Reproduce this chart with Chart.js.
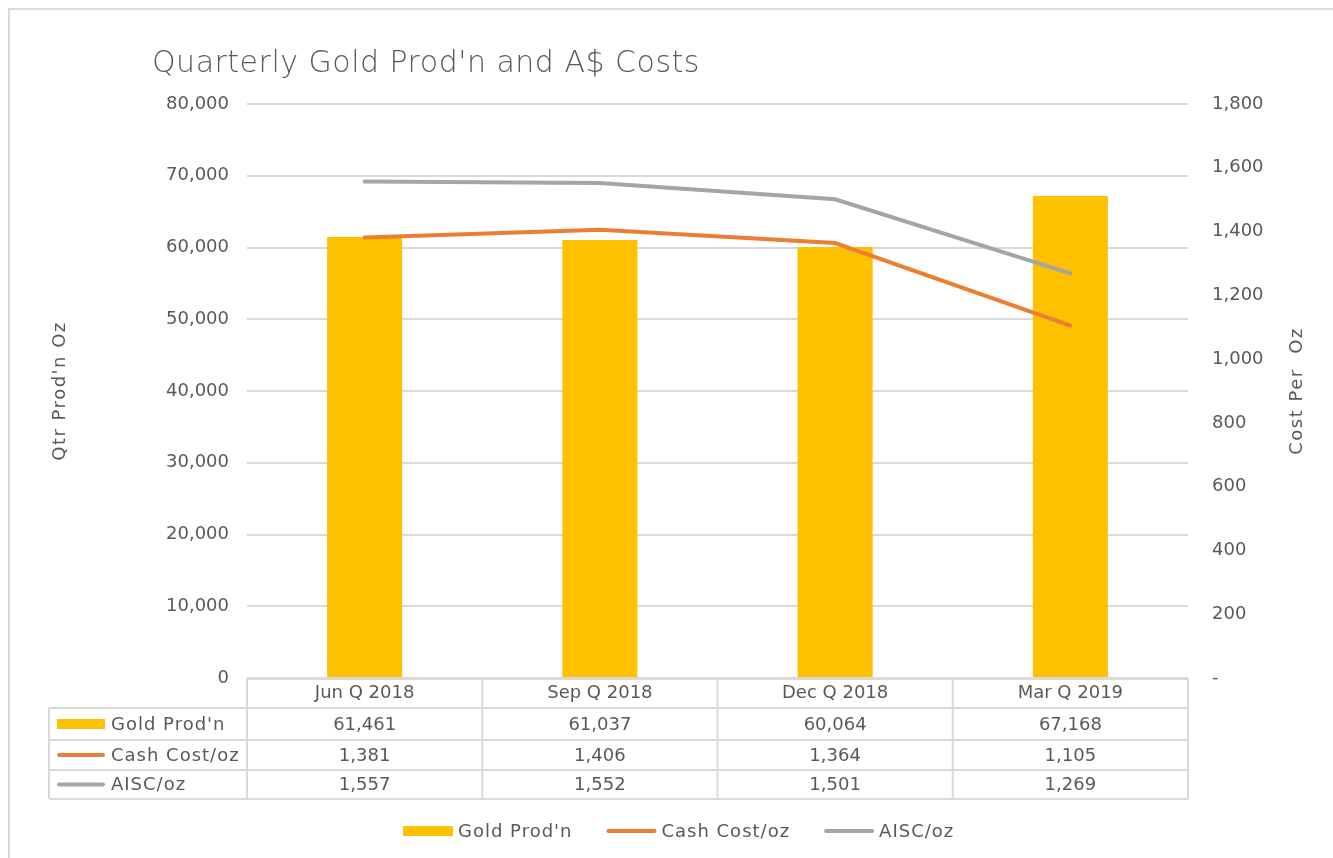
<!DOCTYPE html>
<html><head><meta charset="utf-8">
<script src="https://cdn.jsdelivr.net/npm/chart.js@4/dist/chart.umd.min.js"></script>
<style>html,body{margin:0;padding:0;background:#fff;overflow:hidden}#wrap{width:1333px;height:858px}canvas{display:block}</style>
</head><body><div id="wrap"><canvas id="c" width="1333" height="858"></canvas></div>
<script>
// ---- data ----
const categories = ['Jun Q 2018', 'Sep Q 2018', 'Dec Q 2018', 'Mar Q 2019'];
const goldProd = [61461, 61037, 60064, 67168];
const cashCost = [1381, 1406, 1364, 1105];
const aiscCost = [1557, 1552, 1501, 1269];
const seriesNames = ["Gold Prod'n", 'Cash Cost/oz', 'AISC/oz'];
const leftAxisRange = [0, 80000, 10000];
const rightAxisRange = [0, 1800, 200];
const titleText = "Quarterly Gold Prod'n and A$ Costs";
const leftTitle = "Qtr Prod'n Oz";
const rightTitle = 'Cost Per  Oz';

// ---- style ----
const FONT = '"DejaVu Sans", sans-serif';
const TXT = '#595959';
const GRID = '#D9D9D9';
const colors = ['#FFC000', '#ED7D31', '#A5A5A5'];
const fmt = v => v.toLocaleString('en-US');

Chart.defaults.font.family = FONT;
Chart.defaults.color = TXT;

function drawSample(ctx, i, x0, x1, yc) {
  if (i === 0) {
    ctx.fillStyle = colors[0];
    ctx.fillRect(x0, yc - 5, x1 - x0, 10);
  } else {
    ctx.strokeStyle = colors[i];
    ctx.lineWidth = 4;
    ctx.lineCap = 'round';
    ctx.beginPath(); ctx.moveTo(x0 + 2, yc); ctx.lineTo(x1 - 2, yc); ctx.stroke();
  }
}

const deco = {
  id: 'deco',
  beforeDraw(chart) {
    const ctx = chart.ctx;
    ctx.save();
    ctx.fillStyle = '#fff';
    ctx.fillRect(0, 0, chart.width, chart.height);
    ctx.strokeStyle = GRID; ctx.lineWidth = 2;
    ctx.lineCap = 'butt';
    ctx.beginPath();
    ctx.moveTo(9, 9); ctx.lineTo(9, 870);
    ctx.moveTo(8, 9); ctx.lineTo(1340, 9);
    ctx.stroke();
    ctx.restore();
  },
  afterDraw(chart) {
    const ctx = chart.ctx;
    const ca = chart.chartArea;
    const xs = chart.scales.x;
    ctx.save();
    ctx.fillStyle = TXT;
    // title
    ctx.font = '300 30px ' + FONT;
    ctx.letterSpacing = '0.5px';
    ctx.textAlign = 'left'; ctx.textBaseline = 'middle';
    ctx.fillText(titleText, 152, 64);
    // axis titles
    ctx.font = '18px ' + FONT;
    ctx.letterSpacing = '1.5px';
    ctx.textAlign = 'center';
    [[60, leftTitle], [1297, rightTitle]].forEach(([x, t]) => {
      ctx.save(); ctx.translate(x, (ca.top + ca.bottom) / 2); ctx.rotate(-Math.PI / 2);
      ctx.fillText(t, 0, 0); ctx.restore();
    });
    // data table
    const n = categories.length;
    const half = (ca.right - ca.left) / n / 2;
    const edges = categories.map((c, i) => xs.getPixelForValue(i) - half);
    edges.push(ca.right);
    const rowsY = [708, 740, 770, 799];
    const tableLeft = 49;
    ctx.strokeStyle = GRID; ctx.lineWidth = 2;
    ctx.beginPath();
    ctx.moveTo(ca.left, ca.bottom + 1); ctx.lineTo(ca.right, ca.bottom + 1);
    rowsY.forEach(y => { ctx.moveTo(tableLeft, y); ctx.lineTo(ca.right, y); });
    edges.forEach(x => { ctx.moveTo(x, ca.bottom); ctx.lineTo(x, rowsY[rowsY.length - 1]); });
    ctx.moveTo(tableLeft, rowsY[0]); ctx.lineTo(tableLeft, rowsY[rowsY.length - 1]);
    ctx.stroke();
    const series = [goldProd, cashCost, aiscCost];
    ctx.font = '18px ' + FONT;
    ctx.textBaseline = 'middle';
    series.forEach((vals, r) => {
      const yc = (rowsY[r] + rowsY[r + 1]) / 2;
      drawSample(ctx, r, 57, 105, yc);
      ctx.fillStyle = TXT; ctx.textAlign = 'left';
      ctx.letterSpacing = '1px';
      ctx.fillText(seriesNames[r], 111, yc + 1);
      ctx.letterSpacing = '0px';
      ctx.textAlign = 'center';
      vals.forEach((v, i) => ctx.fillText(fmt(v), xs.getPixelForValue(i), yc + 1));
    });
    // legend
    let lx = 403; const ly = 831;
    ctx.letterSpacing = '1px';
    seriesNames.forEach((name, i) => {
      drawSample(ctx, i, lx, lx + 50, ly);
      ctx.fillStyle = TXT; ctx.textAlign = 'left';
      ctx.fillText(name, lx + 55, ly + 1);
      lx += 55 + ctx.measureText(name).width + 34;
    });
    ctx.restore();
  }
};

new Chart(document.getElementById('c'), {
  data: {
    labels: categories,
    datasets: [
      { type: 'bar', label: seriesNames[0], data: goldProd, yAxisID: 'y', backgroundColor: colors[0],
        barPercentage: 0.319, categoryPercentage: 1, order: 3 },
      { type: 'line', label: seriesNames[1], data: cashCost, yAxisID: 'y1', borderColor: colors[1],
        borderWidth: 4, pointRadius: 0, borderCapStyle: 'round', order: 1 },
      { type: 'line', label: seriesNames[2], data: aiscCost, yAxisID: 'y1', borderColor: colors[2],
        borderWidth: 4, pointRadius: 0, borderCapStyle: 'round', order: 2 }
    ]
  },
  options: {
    responsive: false, animation: false,
    layout: { padding: { top: 104, left: 0, right: 0, bottom: 0 } },
    plugins: { legend: { display: false }, tooltip: { enabled: false } },
    scales: {
      x: {
        position: 'bottom',
        grid: { display: false, drawTicks: false }, border: { display: false },
        ticks: { padding: 5, font: { size: 18 }, color: TXT, maxRotation: 0 },
        afterFit(s) { s.height = 180; }
      },
      y: {
        position: 'left', min: leftAxisRange[0], max: leftAxisRange[1],
        ticks: { stepSize: leftAxisRange[2], padding: 18, font: { size: 18 }, color: TXT, callback: v => fmt(v) },
        grid: { color: GRID, lineWidth: 2, drawTicks: false }, border: { display: false },
        afterFit(s) { s.width = 247; }
      },
      y1: {
        position: 'right', min: rightAxisRange[0], max: rightAxisRange[1],
        ticks: { stepSize: rightAxisRange[2], padding: 24, font: { size: 18 }, color: TXT, callback: v => v === 0 ? '-' : fmt(v) },
        grid: { display: false, drawTicks: false }, border: { display: false },
        afterFit(s) { s.width = 145; }
      }
    }
  },
  plugins: [deco]
});
</script></body></html>
